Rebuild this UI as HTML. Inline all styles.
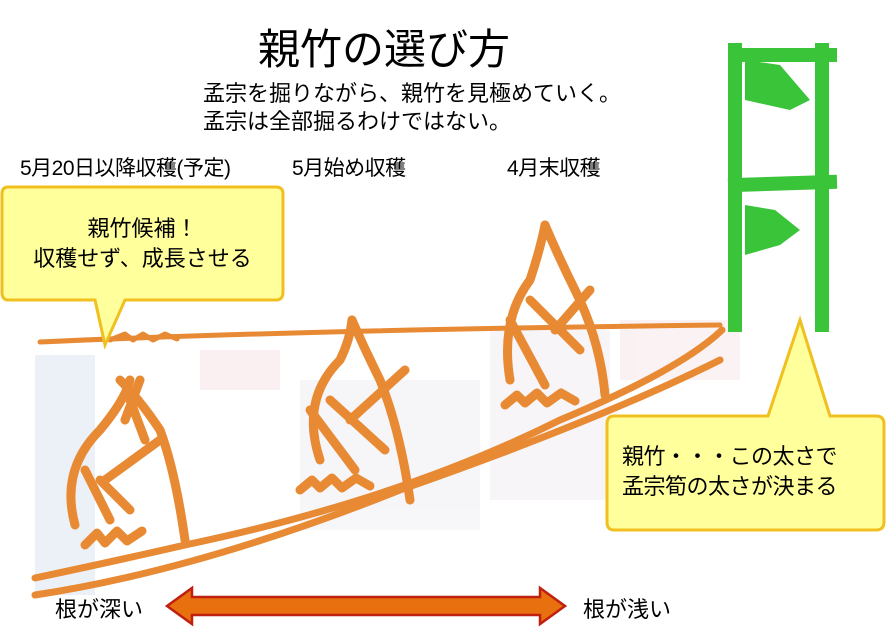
<!DOCTYPE html>
<html><head><meta charset="utf-8"><style>
body{margin:0;width:886px;height:634px;background:#fff;overflow:hidden;position:relative;font-family:"Liberation Sans","Noto Sans CJK JP",sans-serif;}
.t{position:absolute;color:#000;white-space:nowrap;}
</style></head><body>
<svg width="886" height="634" style="position:absolute;left:0;top:0">
<g opacity="0.35">
<rect x="35" y="355" width="60" height="240" fill="#c8d6ea"/>
<rect x="200" y="350" width="80" height="40" fill="#f3d3d8"/>
<rect x="300" y="380" width="180" height="150" fill="#e8e6ee"/>
<rect x="490" y="330" width="120" height="170" fill="#e9e3ea"/>
<rect x="620" y="320" width="120" height="60" fill="#f2dadd"/>
</g>
<g fill="none" stroke="#e88a34" stroke-linecap="round" stroke-linejoin="round">
<path d="M40 342 Q300 330 720 325" stroke-width="5"/>
<path d="M110 340 l15-6 l8 6 l10-6 l10 6 l12-6 l12 5" stroke-width="5"/>
<path d="M35 578 Q120 560 185 545 Q400 500 560 420 Q680 370 722 330" stroke-width="7"/>
<path d="M35 595 Q200 570 400 490 Q600 420 720 360" stroke-width="7"/>
<g stroke-width="9">
<path d="M75 525 Q60 470 100 430 Q125 400 130 380"/>
<path d="M185 540 Q175 470 160 430 Q140 400 120 380"/>
<path d="M85 470 L110 520"/><path d="M100 480 L130 510"/><path d="M160 440 L105 480"/>
<path d="M85 545 l12-12 l8 10 l12-12 l10 10 l15-10"/>
<path d="M130 400 L145 440 M140 380 L125 420"/>
<path d="M320 460 Q300 400 340 360 Q350 340 352 320"/>
<path d="M410 500 Q400 430 380 380 Q365 350 352 320"/>
<path d="M310 410 L355 470"/><path d="M330 400 L385 450"/><path d="M405 370 L350 420"/>
<path d="M300 490 l12-10 l8 8 l12-10 l10 10 l14-10 l14 8"/>
<path d="M510 380 Q500 320 530 280 Q540 250 545 225"/>
<path d="M605 395 Q600 340 575 290 Q560 260 545 225"/>
<path d="M510 320 L545 385"/><path d="M530 300 L580 350"/><path d="M590 290 L555 330"/>
<path d="M505 405 l12-10 l8 8 l12-10 l10 10 l14-10 l14 8"/>
</g></g>
<g fill="none" stroke="#3ac43a" stroke-width="14" stroke-linecap="square">
<path d="M735 50 L735 325"/><path d="M822 50 L822 325"/>
<path d="M735 55 L830 55"/><path d="M735 185 L830 182"/>
</g>
<path d="M745 60 L780 65 L810 100 L790 110 L745 100 Z" fill="#3ac43a"/>
<path d="M745 205 L775 210 L800 230 L780 245 L745 255 Z" fill="#3ac43a"/>
<path d="M8 187 H276 Q283 187 283 194 V292 Q283 300 276 300 H125 L105 345 L95 300 H8 Q2 300 2 292 V194 Q2 187 8 187Z" fill="#ffff9c" stroke="#f0c020" stroke-width="3"/>
<path d="M614 416 H768 L800 320 L830 416 H876 Q884 416 884 424 V522 Q884 530 876 530 H614 Q607 530 607 522 V424 Q607 416 614 416Z" fill="#ffff9c" stroke="#f0c020" stroke-width="3"/>
<path d="M167 606 L192 588 L192 597 L540 597 L540 588 L565 606 L540 624 L540 615 L192 615 L192 624 Z" fill="#e8700f" stroke="#c02010" stroke-width="2.5"/>
</svg>
<div class="t" style="left:258px;top:16px;font-size:42px">親竹の選び方</div>
<div class="t" style="left:203px;top:80px;font-size:22px;line-height:28px">孟宗を掘りながら、親竹を見極めていく。<br>孟宗は全部掘るわけではない。</div>
<div class="t" style="left:20px;top:152px;font-size:21px;letter-spacing:-0.5px">5月20日以降収穫(予定)</div>
<div class="t" style="left:292px;top:152px;font-size:21px;letter-spacing:-0.5px">5月始め収穫</div>
<div class="t" style="left:507px;top:152px;font-size:21px;letter-spacing:-0.5px">4月末収穫</div>
<div class="t" style="left:2px;top:214px;width:281px;text-align:center;font-size:22px;line-height:30px">親竹候補！<br>収穫せず、成長させる</div>
<div class="t" style="left:622px;top:442px;font-size:22px;line-height:30px;letter-spacing:-0.5px">親竹・・・この太さで<br>孟宗筍の太さが決まる</div>
<div class="t" style="left:55px;top:592px;font-size:22px">根が深い</div>
<div class="t" style="left:583px;top:592px;font-size:22px">根が浅い</div>
</body></html>
